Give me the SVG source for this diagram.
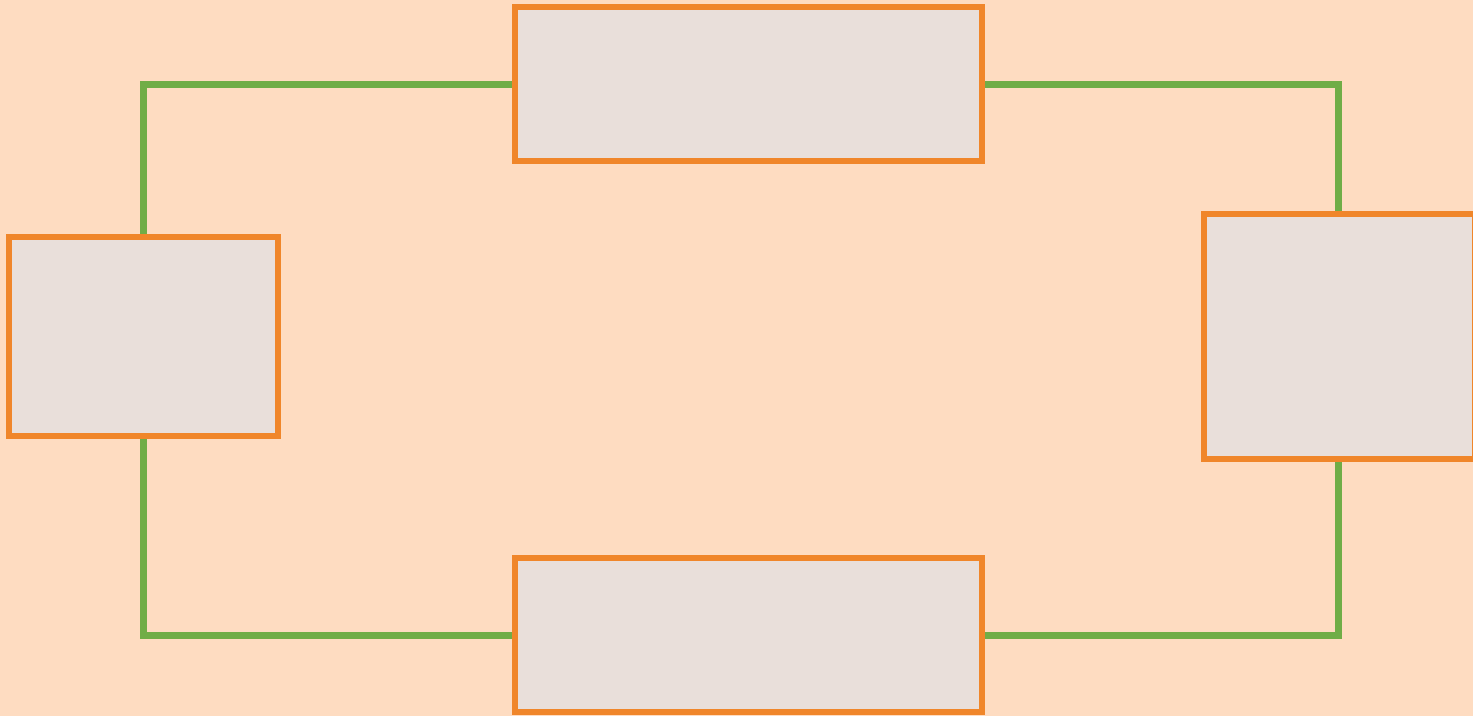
<svg xmlns="http://www.w3.org/2000/svg" width="1473" height="716" viewBox="0 0 1473 716">
  <style>
    .node { fill: #E9DFDA; stroke: #F0862A; stroke-width: 6; stroke-linejoin: miter; }
    .conn { fill: none; stroke: #70AD47; stroke-width: 7; stroke-linejoin: miter; }
  </style>
  <rect x="0" y="0" width="1473" height="716" fill="#FEDCC1"/>
  <g id="connectors">
    <polyline class="conn" points="515,84.5 143.5,84.5 143.5,237"/>
    <polyline class="conn" points="982,84.5 1338.5,84.5 1338.5,214"/>
    <polyline class="conn" points="143.5,436 143.5,635.5 515,635.5"/>
    <polyline class="conn" points="1338.5,459 1338.5,635.5 982,635.5"/>
  </g>
  <g id="node-top"><rect class="node" x="515" y="7" width="467" height="154"/></g>
  <g id="node-left"><rect class="node" x="9" y="237" width="269" height="199"/></g>
  <g id="node-right"><rect class="node" x="1204" y="214" width="271" height="245"/></g>
  <g id="node-bottom"><rect class="node" x="515" y="558" width="467" height="154"/></g>
</svg>
